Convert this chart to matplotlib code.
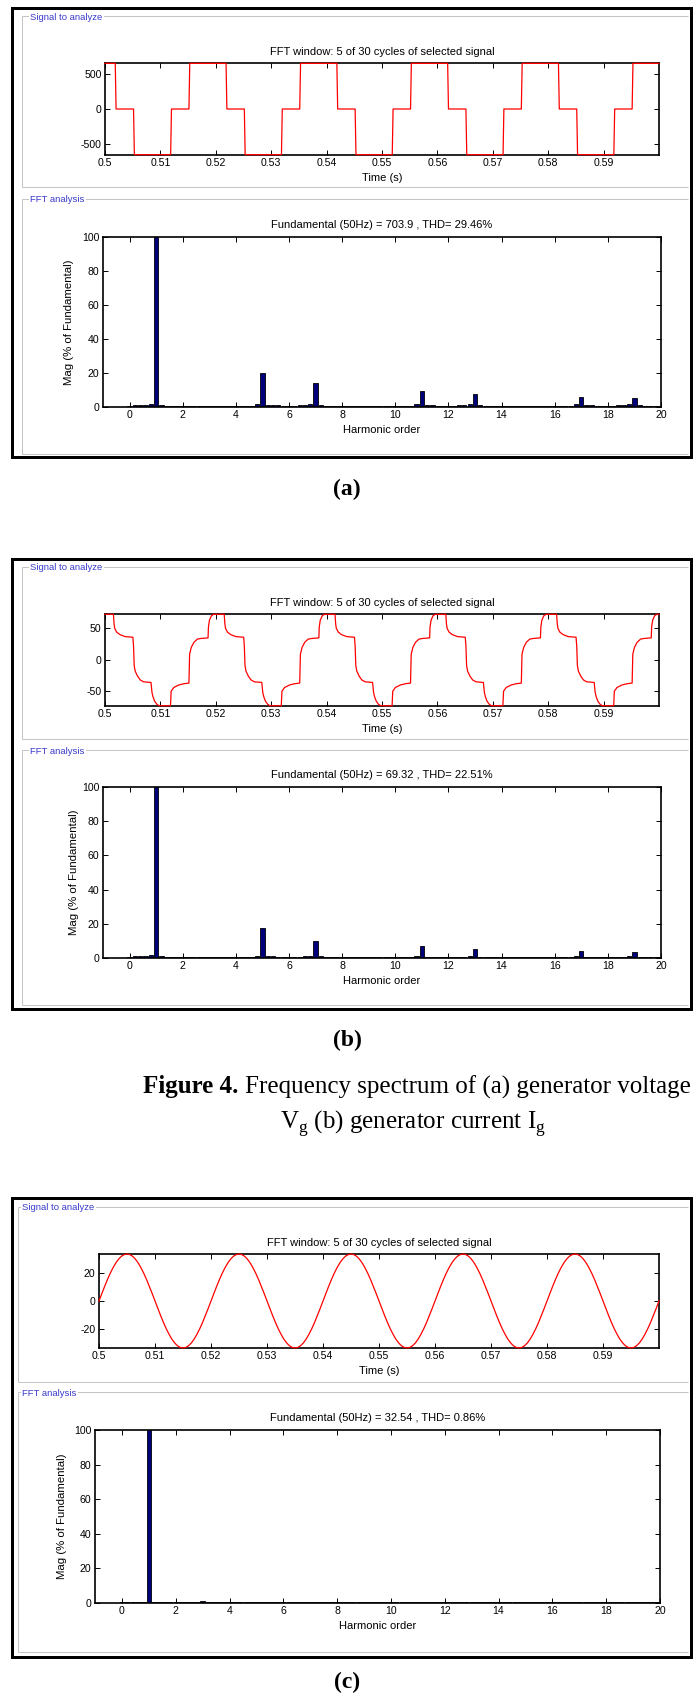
import matplotlib
matplotlib.use("Agg")
import matplotlib.pyplot as plt
from matplotlib.patches import Rectangle
import numpy as np

plt.rcParams['font.family'] = ['Liberation Sans', 'DejaVu Sans']
plt.rcParams['axes.unicode_minus'] = False
plt.rcParams['mathtext.fontset'] = 'custom'
plt.rcParams['mathtext.rm'] = 'Liberation Serif'

# ---------------- data ----------------
titles_top = ["FFT window: 5 of 30 cycles of selected signal"] * 3
titles_fft = ["Fundamental (50Hz) = 703.9 , THD= 29.46%",
              "Fundamental (50Hz) = 69.32 , THD= 22.51%",
              "Fundamental (50Hz) = 32.54 , THD= 0.86%"]
panel_labels = ["(a)", "(b)", "(c)"]

time_ticks = [0.5, 0.51, 0.52, 0.53, 0.54, 0.55, 0.56, 0.57, 0.58, 0.59]
time_tick_labels = ["0.5", "0.51", "0.52", "0.53", "0.54", "0.55", "0.56", "0.57", "0.58", "0.59"]
harm_ticks = [0, 2, 4, 6, 8, 10, 12, 14, 16, 18, 20]
mag_ticks = [0, 20, 40, 60, 80, 100]
yticks_sig = [[-500, 0, 500], [-50, 0, 50], [-20, 0, 20]]
ylim_sig = [(-650, 650), (-73.5, 73), (-33, 33)]

n_cycles = 5
period_ms = 20.0
t_start = 0.5

# (a) generator voltage: one cycle, vertices (ms from cycle start, value)
cyc_a_t = [0.0, 1.85, 2.0, 5.15, 5.3, 11.85, 12.0, 15.15, 15.3, 20.0]
cyc_a_v = [645, 645, 0, 0, -645, -645, 0, 0, 645, 645]

# (b) generator current: one cycle, vertices
cyc_b_t = [0.0, 1.52, 1.64, 1.76, 2.12, 2.73, 3.64, 5.03, 5.15, 5.27, 5.45, 5.88, 6.36,
           6.97, 8.30, 8.48, 8.67, 8.97, 9.39, 9.76, 11.82, 11.94, 12.42, 13.33, 14.24,
           15.15, 15.27, 15.58, 16.06, 16.67, 17.27, 18.60, 18.67, 18.85, 19.20, 19.58, 20.0]
cyc_b_v = [72.5, 72.5, 57, 50, 44, 40, 37, 36, 22, -9, -18, -26, -32,
           -35, -36, -52, -59, -66, -71, -73, -73, -50, -44, -40, -38,
           -37, 9, 20, 28, 33, 34, 35, 52, 63, 70, 72.5, 72.5]

# (c) generator current after filtering: one cycle sampled every 0.5 ms
cyc_c_v = [0.0, 5.2, 10.2, 15.0, 19.4, 23.3, 26.7, 29.4, 31.4, 32.6,
           33.0, 32.6, 31.4, 29.4, 26.7, 23.3, 19.4, 15.0, 10.2, 5.2,
           0.0, -5.2, -10.2, -15.0, -19.4, -23.3, -26.7, -29.4, -31.4, -32.6,
           -33.0, -32.6, -31.4, -29.4, -26.7, -23.3, -19.4, -15.0, -10.2, -5.2]
cyc_c_t = [0.5 * k for k in range(40)]

# harmonic spectra, bins every 0.2 harmonic order (0 ... 20)
orders = [round(0.2 * i, 1) for i in range(101)]
mag_a = ([0.5, 1.0, 1.0, 1.1, 1.6, 100, 1.4, 0.8, 0.7, 0.7] +
         [0.7] * 10 +
         [0.7, 0.7, 0.7, 0.8, 1.6, 20.2, 1.4, 1.0, 0.9, 0.7] +
         [0.7, 0.7, 0.9, 1.0, 1.6, 14.4, 1.1, 0.8, 0.7, 0.7] +
         [0.7] * 10 +
         [0.7, 0.7, 0.7, 0.8, 1.6, 9.3, 1.4, 1.0, 0.8, 0.7] +
         [0.7, 0.7, 0.9, 1.0, 1.5, 7.6, 1.0, 0.8, 0.7, 0.7] +
         [0.7] * 10 +
         [0.7, 0.7, 0.7, 0.8, 1.5, 6.0, 1.0, 0.9, 0.8, 0.7] +
         [0.7, 0.7, 0.9, 0.9, 1.5, 5.2, 1.0, 0.8, 0.7, 0.7] +
         [0.7])
mag_b = ([0.5, 1.1, 1.1, 1.1, 1.5, 100, 0.9, 0.7, 0.65, 0.65] +
         [0.65] * 10 +
         [0.65, 0.65, 0.65, 0.7, 1.0, 17.3, 1.1, 1.1, 0.7, 0.65] +
         [0.65, 0.65, 0.7, 1.1, 1.1, 10.2, 0.9, 0.7, 0.65, 0.65] +
         [0.65] * 10 +
         [0.65, 0.65, 0.65, 0.7, 0.9, 7.0, 0.8, 0.7, 0.65, 0.65] +
         [0.65, 0.65, 0.65, 0.7, 0.9, 5.1, 0.8, 0.7, 0.65, 0.65] +
         [0.65] * 10 +
         [0.65, 0.65, 0.65, 0.7, 0.9, 3.9, 0.8, 0.7, 0.65, 0.65] +
         [0.65, 0.65, 0.65, 0.7, 0.9, 3.6, 0.7, 0.65, 0.65, 0.65] +
         [0.65])
mag_c = ([0.55, 0.55, 0.55, 0.55, 0.55, 100, 0.55, 0.55, 0.55, 0.55] +
         [0.55, 0.55, 0.55, 0.55, 0.55, 1.2, 0.55, 0.55, 0.55, 0.55] +
         [0.55] * 80 +
         [0.55])

caption_bold = "Figure 4."
caption_rest = "Frequency spectrum of (a) generator voltage"
caption_line2 = r"V$_{\mathregular{g}}$ (b) generator current I$_{\mathregular{g}}$"


def build_cycles(ct, cv):
    t, v = [], []
    for k in range(n_cycles):
        for a, b in zip(ct, cv):
            t.append(t_start + (k * period_ms + a) / 1000.0)
            v.append(b)
    return t, v


sig_a = build_cycles(cyc_a_t, cyc_a_v)
sig_b = build_cycles(cyc_b_t, cyc_b_v)
sig_c_t, sig_c_v = build_cycles(cyc_c_t, cyc_c_v)
sig_c_t.append(t_start + n_cycles * period_ms / 1000.0)
sig_c_v.append(cyc_c_v[0])
signals = [sig_a, sig_b, (sig_c_t, sig_c_v)]
spectra = [mag_a, mag_b, mag_c]

# ---------------- layout (pixel coordinates, top origin) ----------------
W, H = 693, 1703
fig = plt.figure(figsize=(W / 100, H / 100), dpi=100)
fig.patch.set_facecolor('white')

bg = fig.add_axes([0, 0, 1, 1], zorder=0)
bg.set_xlim(0, W)
bg.set_ylim(H, 0)
bg.axis('off')


def add_ax(l, t, r, b):
    return fig.add_axes([l / W, 1 - b / H, (r - l) / W, (b - t) / H], zorder=2)


panels = [
    dict(frame=(12, 8, 691, 457), g1=(22, 16, 187), g2=(22, 199, 454), gtx=30,
         top=(105, 63, 659, 155), bot=(103, 237, 661, 407), ylab_x=69, lab_y=489),
    dict(frame=(12, 559, 691, 1009), g1=(22, 567, 739), g2=(22, 750, 1005), gtx=30,
         top=(105, 614, 659, 706), bot=(103, 787, 661, 958), ylab_x=74, lab_y=1040),
    dict(frame=(12, 1198, 691, 1657), g1=(18, 1207, 1382), g2=(18, 1392, 1652), gtx=22,
         top=(99, 1254, 659, 1348), bot=(95, 1430, 660, 1603), ylab_x=62, lab_y=1682),
]

blue = '#3a3acc'
gray = '#c4c4c4'
px = 0.72  # points per pixel


def group_box(x0, y0, y1, label, tx):
    x1 = 688
    bg.plot([x0, x1], [y0, y0], color=gray, lw=1 * px, solid_capstyle='butt')
    bg.plot([x0, x1], [y1, y1], color=gray, lw=1 * px, solid_capstyle='butt')
    bg.plot([x0, x0], [y0, y1], color=gray, lw=1 * px, solid_capstyle='butt')
    bg.text(tx, y0 + 1, label, color=blue, fontsize=6.8, ha='left', va='center',
            family=['Liberation Sans Narrow', 'Liberation Sans'],
            bbox=dict(facecolor='white', edgecolor='none', pad=1.0))


def style_axes(ax):
    for s in ax.spines.values():
        s.set_linewidth(1.2)
        s.set_color('black')
    ax.tick_params(direction='in', length=3.5, width=0.7, top=True, right=True,
                   labelsize=7.6, pad=2.5, colors='black')


for i, p in enumerate(panels):
    fl, ft, fr, fb = p['frame']
    bg.add_patch(Rectangle((fl, ft), fr - fl, fb - ft, fill=False,
                           edgecolor='black', lw=3 * px))
    group_box(p['g1'][0], p['g1'][1], p['g1'][2], "Signal to analyze", p['gtx'])
    group_box(p['g2'][0], p['g2'][1], p['g2'][2], "FFT analysis", p['gtx'])

    # signal axes
    l, t, r, b = p['top']
    ax = add_ax(l, t, r, b)
    ts, vs = signals[i]
    ax.plot(ts, vs, color='red', lw=0.9, zorder=3, clip_on=False)
    ax.set_xlim(0.5, 0.6)
    ax.set_ylim(*ylim_sig[i])
    ax.set_xticks(time_ticks)
    ax.set_xticklabels(time_tick_labels)
    ax.set_yticks(yticks_sig[i])
    style_axes(ax)
    cx = (l + r) / 2
    bg.text(cx, t - 11, titles_top[i], ha='center', va='center', fontsize=8)
    bg.text(cx, b + 23, "Time (s)", ha='center', va='center', fontsize=8)

    # spectrum axes
    l, t, r, b = p['bot']
    ax2 = add_ax(l, t, r, b)
    ax2.bar(orders, spectra[i], width=0.16, color='#00007a', edgecolor='black',
            linewidth=0.6, zorder=2)
    ax2.set_xlim(-1, 20)
    ax2.set_ylim(0, 100)
    ax2.set_xticks(harm_ticks)
    ax2.set_yticks(mag_ticks)
    style_axes(ax2)
    cx = (l + r) / 2
    bg.text(cx, t - 12, titles_fft[i], ha='center', va='center', fontsize=8)
    bg.text(cx, b + 23, "Harmonic order", ha='center', va='center', fontsize=8)
    bg.text(p['ylab_x'], (t + b) / 2, "Mag (% of Fundamental)", ha='center',
            va='center', rotation=90, fontsize=8.2)

    bg.text(347, p['lab_y'], panel_labels[i], ha='center', va='center', fontsize=17,
            fontweight='bold', family=['Liberation Serif', 'DejaVu Serif'])

# caption
renderer = fig.canvas.get_renderer()
cap_cx = 417
cap_fs = 18
t1 = bg.text(0, 1087, caption_bold, ha='left', va='center', fontsize=cap_fs,
             fontweight='bold', family=['Liberation Serif', 'DejaVu Serif'])
t2 = bg.text(0, 1087, caption_rest, ha='left', va='center', fontsize=cap_fs,
             family=['Liberation Serif', 'DejaVu Serif'])
w1 = t1.get_window_extent(renderer).width
w2 = t2.get_window_extent(renderer).width
gap = 0.25 * cap_fs / 0.72
x0 = cap_cx - (w1 + gap + w2) / 2
t1.set_x(x0)
t2.set_x(x0 + w1 + gap)
bg.text(cap_cx - 4, 1124, caption_line2, ha='center', va='center', fontsize=cap_fs,
        family=['Liberation Serif', 'DejaVu Serif'])

fig.savefig("out.png", dpi=100, facecolor='white')
